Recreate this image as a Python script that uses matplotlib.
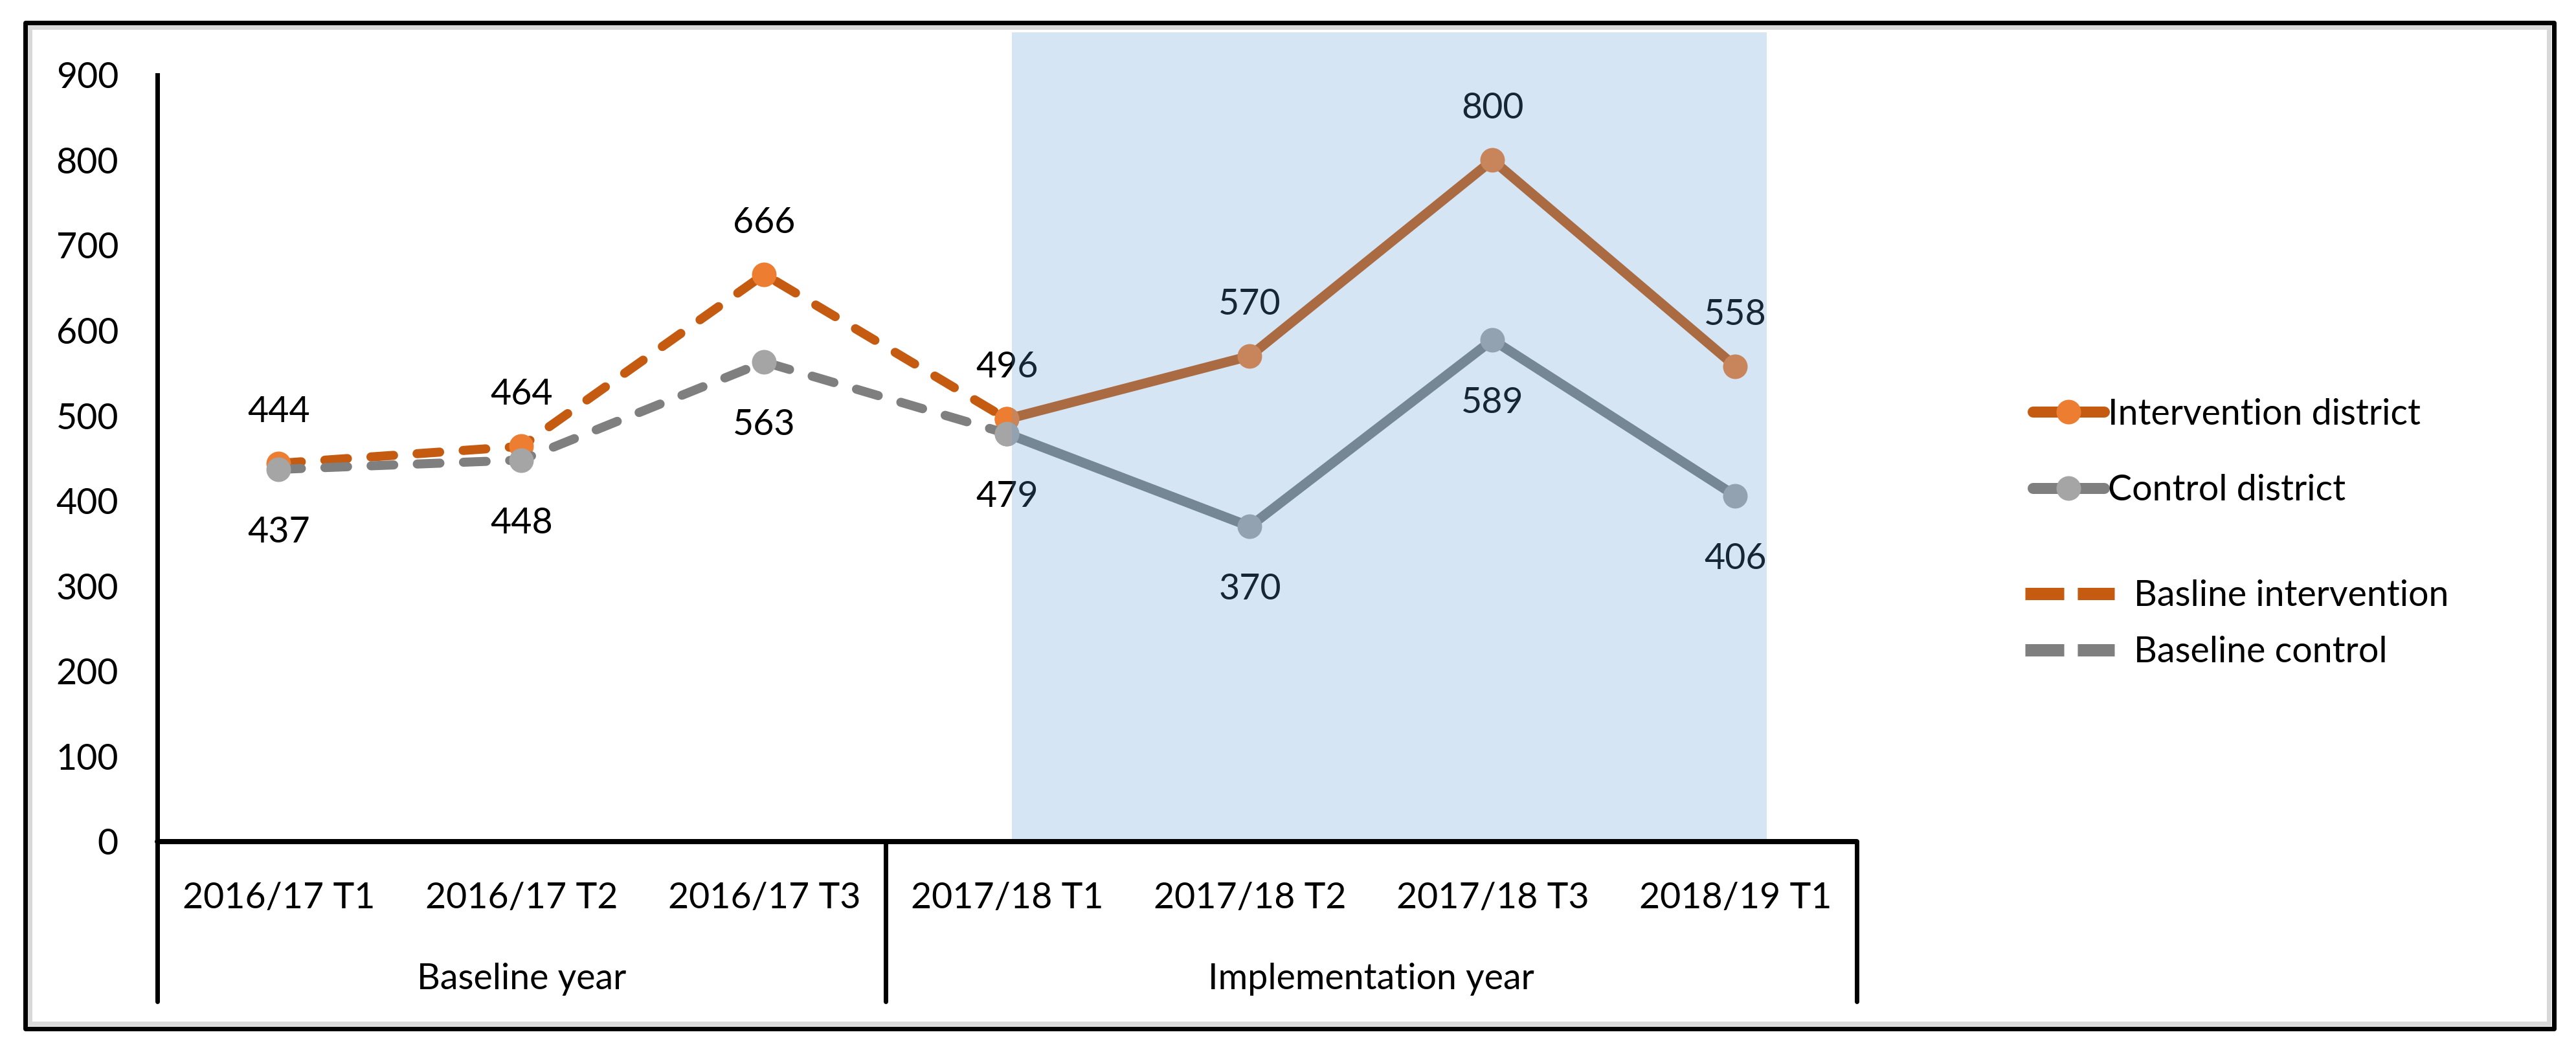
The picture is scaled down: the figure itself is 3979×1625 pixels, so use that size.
import matplotlib
matplotlib.use('Agg')
import matplotlib.pyplot as plt
from matplotlib.lines import Line2D
from matplotlib.patches import Rectangle

# ---------------- data ----------------
periods = ['2016/17 T1', '2016/17 T2', '2016/17 T3',
           '2017/18 T1', '2017/18 T2', '2017/18 T3', '2018/19 T1']
groups = ['Baseline year', 'Implementation year']
group_sizes = [3, 4]
intervention = [444, 464, 666, 496, 570, 800, 558]
control = [437, 448, 563, 479, 370, 589, 406]
baseline_last = 3          # last period index of the dashed baseline series
y_ticks = [0, 100, 200, 300, 400, 500, 600, 700, 800, 900]
legend_solid = ['Intervention district', 'Control district']
legend_dashed = ['Basline intervention', 'Baseline control']

# ---------------- style ----------------
plt.rcParams['font.family'] = ['Lato', 'DejaVu Sans']
W, H, DPI = 3979, 1625, 100
PT = 72.0 / DPI            # points per pixel
FS = 40
ORANGE_LINE, ORANGE_MK = '#C55A11', '#ED7D31'
GREY_LINE, GREY_MK = '#7F7F7F', '#A5A5A5'
SHADE = '#5B9BD5'


def fx(px):
    return px / W


def fy(py):
    return 1 - py / H


fig = plt.figure(figsize=(W / DPI, H / DPI), dpi=DPI)
fig.patch.set_facecolor('white')

# outer frame (black border + light grey inner shadow)
fig.add_artist(Rectangle((fx(45.5), fy(1581)), fx(3937) - fx(45.5), (1581 - 41.5) / H,
                         transform=fig.transFigure, fill=False, ec='#D9D9D9', lw=7 * PT))
fig.add_artist(Rectangle((fx(38.5), fy(1589)), fx(3944.5) - fx(38.5), (1589 - 34.5) / H,
                         transform=fig.transFigure, fill=False, ec='black', lw=7 * PT,
                         joinstyle='round'))

ax = fig.add_axes([fx(243), fy(1300), fx(2868) - fx(243), (1300 - 50) / H])
ax.set_facecolor('none')
x = list(range(len(periods)))
ax.set_xlim(-0.5, len(periods) - 0.5)
ax.set_ylim(0, 950)

b = slice(0, baseline_last + 1)
m = slice(baseline_last, None)
LW = 15 * PT
MS = 38 * PT
dash = (0, (2.5, 2.6))

ax.plot(x[m], intervention[m], color=ORANGE_LINE, lw=LW, marker='o', ms=MS,
        mfc=ORANGE_MK, mec=ORANGE_MK, mew=0, solid_capstyle='round', zorder=3)
ax.plot(x[m], control[m], color=GREY_LINE, lw=LW, marker='o', ms=MS,
        mfc=GREY_MK, mec=GREY_MK, mew=0, solid_capstyle='round', zorder=3)
ax.plot(x[b], intervention[b], color=ORANGE_LINE, lw=14 * PT, ls=dash,
        dash_capstyle='round', marker='o', ms=MS, mfc=ORANGE_MK, mec=ORANGE_MK,
        mew=0, zorder=4)
ax.plot(x[b], control[b], color=GREY_LINE, lw=14 * PT, ls=dash,
        dash_capstyle='round', marker='o', ms=MS, mfc=GREY_MK, mec=GREY_MK,
        mew=0, zorder=4)

for i, v in enumerate(intervention):
    ax.annotate(f'{v}', (i, v), xytext=(0, 64 * PT), textcoords='offset points',
                ha='center', va='baseline', fontsize=FS, color='black', zorder=5)
for i, v in enumerate(control):
    ax.annotate(f'{v}', (i, v), xytext=(0, -113 * PT), textcoords='offset points',
                ha='center', va='baseline', fontsize=FS, color='black', zorder=5)

# implementation-period highlight drawn over the series
ax.axvspan(3.02, 6.13, color=SHADE, alpha=0.25, lw=0, zorder=8)

# axes
for s in ('top', 'right'):
    ax.spines[s].set_visible(False)
ax.spines['left'].set_bounds(0, 900)
ax.spines['left'].set_linewidth(7 * PT)
ax.spines['bottom'].set_linewidth(8 * PT)
ax.spines['bottom'].set_zorder(9)
ax.spines['bottom'].set_capstyle('round')

ax.set_yticks(y_ticks)
ax.tick_params(axis='y', length=0, pad=60 * PT, labelsize=FS, labelcolor='black')
ax.set_xticks(x)
ax.set_xticklabels(periods)
ax.tick_params(axis='x', length=0, pad=103 * PT, labelsize=FS, labelcolor='black')
for lbl in ax.get_xticklabels():
    lbl.set_verticalalignment('baseline')

# multi-level category axis: dividers and group labels
edges = [-0.5]
for g in group_sizes:
    edges.append(edges[-1] + g)
for e in edges:
    ax.plot([e, e], [0, -247 / 1250], transform=ax.get_xaxis_transform(),
            color='black', lw=7 * PT, clip_on=False, solid_capstyle='round', zorder=9)
for gname, a, c in zip(groups, edges[:-1], edges[1:]):
    ax.annotate(gname, xy=((a + c) / 2, 0), xycoords=('data', 'axes fraction'),
                xytext=(0, -228 * PT), textcoords='offset points',
                ha='center', va='baseline', fontsize=FS, color='black',
                annotation_clip=False)

# legends
EM = FS / PT
LLW = 17
h1 = [Line2D([], [], color=ORANGE_LINE, lw=LLW * PT, marker='o', ms=38 * PT,
             mfc=ORANGE_MK, mec=ORANGE_MK, mew=0, solid_capstyle='round'),
      Line2D([], [], color=GREY_LINE, lw=LLW * PT, marker='o', ms=38 * PT,
             mfc=GREY_MK, mec=GREY_MK, mew=0, solid_capstyle='round')]
fig.legend(h1, legend_solid, loc='center left',
           bbox_to_anchor=(fx(3131 + LLW / 2), fy(699)),
           frameon=False, fontsize=FS, borderpad=0, borderaxespad=0,
           handlelength=(127 - LLW) / EM, handletextpad=6 / EM,
           labelspacing=1.19, numpoints=1)
h2 = [Line2D([], [], color=ORANGE_LINE, lw=19 * PT, ls=(0, (3.16, 1.1)),
             dash_capstyle='butt'),
      Line2D([], [], color=GREY_LINE, lw=19 * PT, ls=(0, (3.16, 1.1)),
             dash_capstyle='butt')]
fig.legend(h2, legend_dashed, loc='center left', bbox_to_anchor=(fx(3128), fy(964)),
           frameon=False, fontsize=FS, borderpad=0, borderaxespad=0,
           handlelength=138 / EM, handletextpad=30 / EM, labelspacing=0.65)

fig.savefig('out.png', dpi=DPI)
